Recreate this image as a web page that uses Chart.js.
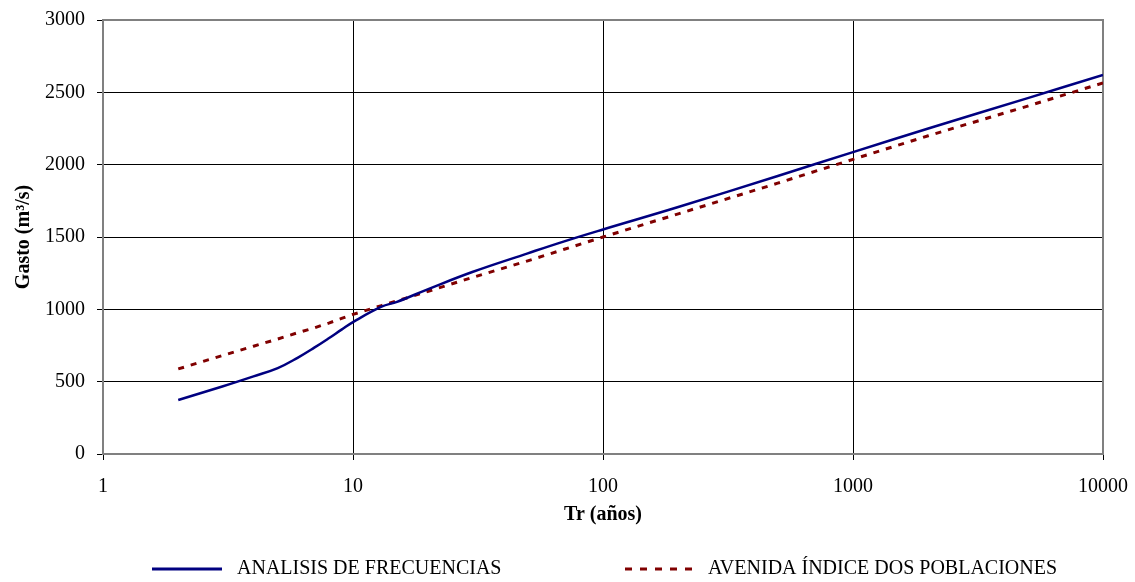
<!DOCTYPE html>
<html>
<head>
<meta charset="utf-8">
<script src="https://cdn.jsdelivr.net/npm/chart.js@4.4.0/dist/chart.umd.min.js"></script>
<style>
    html, body { margin: 0; padding: 0; background: #fff; }
    #contenedor { width: 1135px; height: 582px; }
</style>
</head>
<body>
<div id="contenedor"><canvas id="grafica" width="1135" height="582"></canvas></div>
<script>
// Periodos de retorno (años)
const trAnios = [2, 3, 4, 5, 6, 7, 8, 9, 10, 13, 15, 20, 30, 50, 70, 100, 200, 500, 1000, 2000, 5000, 10000];
// Gasto (m3/s) - analisis de frecuencias
const gastoFrecuencias = [373, 467, 537, 594, 665, 735, 800, 860, 912, 1018, 1052, 1140, 1258, 1387, 1470, 1552, 1707, 1922, 2087, 2250, 2460, 2620];
// Gasto (m3/s) - avenida indice dos poblaciones
const gastoDosPoblaciones = [588, 680, 745, 795, 838, 872, 905, 937, 965, 1026, 1058, 1125, 1220, 1335, 1415, 1500, 1660, 1872, 2037, 2200, 2405, 2565];

const ticksTr = [1, 10, 100, 1000, 10000];
const nombresSeries = ['ANALISIS DE FRECUENCIAS', 'AVENIDA ÍNDICE DOS POBLACIONES'];

const fuente = "'Liberation Serif', 'Times New Roman', serif";

function puntos(xs, ys) {
    return xs.map((x, i) => ({ x: x, y: ys[i] }));
}

// marco gris del area de trazado
const marcoArea = {
    id: 'marcoArea',
    beforeDatasetsDraw(chart) {
        const { ctx, chartArea: a } = chart;
        ctx.save();
        ctx.strokeStyle = '#808080';
        ctx.lineWidth = 2;
        ctx.strokeRect(a.left, a.top, a.right - a.left, a.bottom - a.top);
        ctx.restore();
    }
};

// leyenda dibujada a mano (posiciones como en el original)
const leyendaManual = {
    id: 'leyendaManual',
    afterDraw(chart) {
        const ctx = chart.ctx;
        const y = 569;
        const cajas = [
            { x0: 152, x1: 222, xt: 237 },
            { x0: 625, x1: 692, xt: 708 }
        ];
        ctx.save();
        ctx.font = '20px ' + fuente;
        ctx.textBaseline = 'middle';
        ctx.fillStyle = '#000';
        chart.data.datasets.forEach((ds, i) => {
            const c = cajas[i];
            ctx.beginPath();
            ctx.strokeStyle = ds.borderColor;
            ctx.lineWidth = 3;
            ctx.setLineDash(i === 1 ? [7, 8] : []);
            ctx.moveTo(c.x0, y);
            ctx.lineTo(c.x1, y);
            ctx.stroke();
            ctx.setLineDash([]);
            ctx.fillText(ds.label, c.xt, y);
        });
        ctx.restore();
    }
};

const ctx = document.getElementById('grafica').getContext('2d');
new Chart(ctx, {
    type: 'scatter',
    data: {
        datasets: [
            {
                label: nombresSeries[0],
                data: puntos(trAnios, gastoFrecuencias),
                showLine: true,
                borderColor: '#000080',
                backgroundColor: '#000080',
                borderWidth: 2.5,
                pointRadius: 0,
                tension: 0.4
            },
            {
                label: nombresSeries[1],
                data: puntos(trAnios, gastoDosPoblaciones),
                showLine: true,
                borderColor: '#800000',
                backgroundColor: '#800000',
                borderWidth: 3,
                borderDash: [6, 7],
                pointRadius: 0
            }
        ]
    },
    options: {
        responsive: false,
        animation: false,
        devicePixelRatio: 1,
        layout: { padding: { left: 0, right: 32, top: 20, bottom: 0 } },
        plugins: {
            legend: { display: false },
            tooltip: { enabled: false }
        },
        scales: {
            x: {
                type: 'logarithmic',
                min: 1,
                max: 10000,
                afterBuildTicks: (scale) => {
                    scale.ticks = ticksTr.map(v => ({ value: v }));
                },
                afterFit: (scale) => {
                    scale.height = 128;
                    scale.paddingLeft = 0;
                    scale.paddingRight = 0;
                },
                grid: { color: '#000', lineWidth: 1, tickLength: 6, tickColor: '#000' },
                border: { display: true, color: '#808080', width: 2 },
                ticks: {
                    color: '#000',
                    font: { family: fuente, size: 20 },
                    padding: 15,
                    maxRotation: 0,
                    autoSkip: false,
                    callback: (v) => String(v)
                },
                title: {
                    display: true,
                    text: 'Tr (años)',
                    color: '#000',
                    font: { family: fuente, size: 20, weight: 'bold' },
                    padding: { top: 0, bottom: 55 }
                }
            },
            y: {
                min: 0,
                max: 3000,
                afterFit: (scale) => {
                    scale.width = 103;
                    scale.paddingTop = 0;
                    scale.paddingBottom = 0;
                },
                grid: { color: '#000', lineWidth: 1, tickLength: 6, tickColor: '#000' },
                border: { display: true, color: '#808080', width: 2 },
                ticks: {
                    stepSize: 500,
                    color: '#000',
                    font: { family: fuente, size: 20 },
                    padding: 12,
                    callback: (v) => String(v)
                },
                title: {
                    display: true,
                    text: 'Gasto (m³/s)',
                    color: '#000',
                    font: { family: fuente, size: 20, weight: 'bold' },
                    padding: { top: 12, bottom: 0 }
                }
            }
        }
    },
    plugins: [marcoArea, leyendaManual]
});
</script>
</body>
</html>
